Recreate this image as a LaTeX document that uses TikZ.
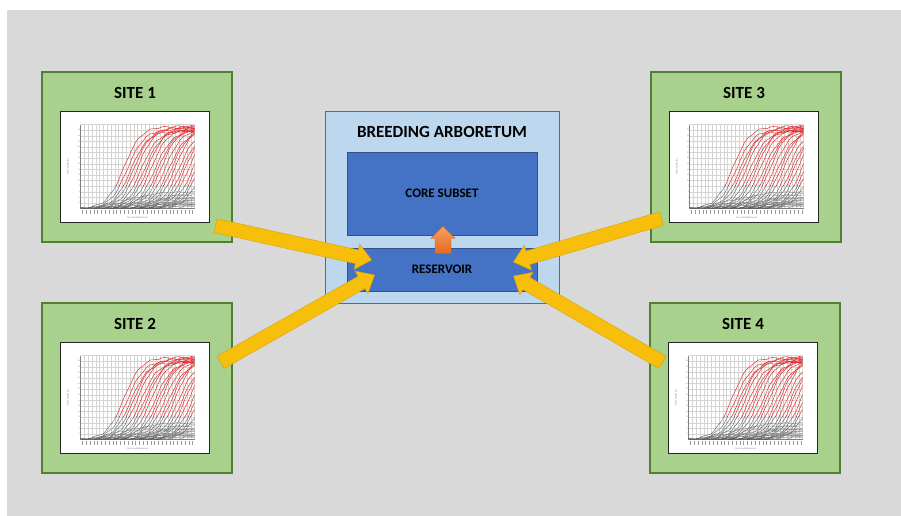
\documentclass[tikz,border=0pt]{standalone}
\usepackage{fontspec}
\setmainfont{Carlito}
\usetikzlibrary{calc}
\definecolor{bgc}{HTML}{D9D9D9}
\definecolor{sitefill}{HTML}{A9D18E}
\definecolor{siteline}{HTML}{507E32}
\definecolor{arbfill}{HTML}{BDD7EE}
\definecolor{arbline}{HTML}{41719C}
\definecolor{corefill}{HTML}{4472C4}
\definecolor{coreline}{HTML}{2F528F}
\definecolor{yel}{HTML}{F8BE0C}
\definecolor{yeldark}{HTML}{DBA200}
\definecolor{orlight}{HTML}{F6A060}
\definecolor{ordark}{HTML}{E36A1E}
\definecolor{gridc}{HTML}{D4D4D4}
\definecolor{redc}{HTML}{E02828}
\definecolor{grayc}{HTML}{555555}

\newcommand{\fatarrow}[6]{%
  \coordinate (fatH) at ($(#3)!#6!(#2)$);
  \path[#1] ($(#2)!#4!90:(#3)$) -- ($(fatH)!#4!90:(#3)$) -- ($(fatH)!#5!90:(#3)$) -- (#3)
     -- ($(fatH)!#5!-90:(#3)$) -- ($(fatH)!#4!-90:(#3)$) -- ($(#2)!#4!-90:(#3)$) -- cycle;}

\newcommand{\minichart}[1]{%
\begin{scope}[shift={(#1.north west)}]
 \begin{scope}[shift={(21,98)}, x=114pt, y=84pt]
  \foreach \i in {0,...,30} \draw[gridc, line width=0.25pt] (\i/30,0) -- (\i/30,1);
  \foreach \j in {0,...,15} \draw[gridc, line width=0.25pt] (0,\j/15) -- (1,\j/15);
  \draw[gray, line width=0.4pt] (0,1) -- (0,0) -- (1,0);
  \foreach \n in {2,4,...,28} \node[font=\fontsize{2}{2}\selectfont, text=gray, anchor=east, inner sep=0.6pt] at (0,\n/30) {\n};
  \node[font=\fontsize{2.4}{2.4}\selectfont, text=gray, rotate=90] at (-0.11,0.5) {Mean height [m]};
  \node[font=\fontsize{2.4}{2.4}\selectfont, text=gray] at (0.5,-0.11) {Year of establishment};
  \foreach \i in {0,...,29} \draw[gray!80, line width=0.5pt] (\i/30+0.017,-0.02) -- ++(0,-0.045);
  \begin{scope}
   \clip (0,0.27) rectangle (1,1.05);
   \foreach \m [count=\k] in {0.38,0.41,...,1.08} {
     \pgfmathsetmacro\ds{max(0,\m-0.45)}
     \pgfmathsetmacro\hh{0.95+0.03*sin(\k*97)}
     \draw[redc, line width=0.45pt] plot[domain=\ds:1, samples=32, smooth] ({\x},{\hh/(1+exp(-(\x-\m)/0.075))+0.01*sin(3000*\x+\k*50)});
   }
  \end{scope}
  \begin{scope}
   \clip (0,0) rectangle (1,0.27);
   \foreach \m [count=\k] in {0.38,0.41,...,1.08} {
     \pgfmathsetmacro\ds{max(0,\m-0.45)}
     \pgfmathsetmacro\hh{0.95+0.03*sin(\k*97)}
     \draw[grayc, line width=0.35pt] plot[domain=\ds:1, samples=32, smooth] ({\x},{\hh/(1+exp(-(\x-\m)/0.075))+0.01*sin(3000*\x+\k*50)});
   }
   \foreach \s/\a in {0.05/0.03,0.1/0.07,0.16/0.12,0.22/0.05,0.28/0.16,0.33/0.1,0.4/0.2,0.45/0.05,0.5/0.13,0.55/0.09,0.6/0.18,0.65/0.07,0.7/0.11,0.75/0.04,0.8/0.16,0.85/0.08} {
     \draw[grayc!80, line width=0.3pt] plot[domain=\s:1, samples=25, smooth] ({\x},{\a*(1-exp(-(\x-\s)/0.12))+0.006*sin(2500*\x+\s*300)});
   }
  \end{scope}
 \end{scope}
\end{scope}}

\begin{document}
\begin{tikzpicture}[x=1pt,y=-1pt,
  sitebox/.style={draw=siteline, fill=sitefill, line width=1.2pt, minimum width=190pt, minimum height=170pt, inner sep=0pt},
  chartbox/.style={draw=black!85, fill=white, line width=0.8pt, minimum width=149pt, minimum height=111pt, inner sep=0pt},
  bigtitle/.style={font=\fontsize{17}{20}\selectfont\bfseries, text=black, inner sep=0pt},
  smalltitle/.style={font=\fontsize{13}{15}\selectfont\bfseries, text=black, inner sep=0pt},
  arbbox/.style={draw=arbline, fill=arbfill, line width=0.8pt, inner sep=0pt},
  bluebox/.style={draw=coreline, fill=corefill, line width=0.9pt, inner sep=0pt, minimum width=190pt},
  yarrow/.style={fill=yel, draw=yeldark, line width=0.4pt, line join=miter},
  oarrow/.style={top color=orlight, bottom color=ordark, draw=ordark!90!black, line width=0.3pt}]
\path[use as bounding box] (0,0) rectangle (901,516);
\fill[bgc] (7,10) rectangle (901,516);

% sites
\node[sitebox] (s1) at (137,157) {};
\node[sitebox] (s2) at (137,388) {};
\node[sitebox] (s3) at (746,157) {};
\node[sitebox] (s4) at (745,388) {};
\node[bigtitle] (s1t) at ($(s1.north)+(-2,22)$) {SITE 1};
\node[bigtitle] (s2t) at ($(s2.north)+(-2,22)$) {SITE 2};
\node[bigtitle] (s3t) at ($(s3.north)+(-2,22)$) {SITE 3};
\node[bigtitle] (s4t) at ($(s4.north)+(-2,22)$) {SITE 4};
\node[chartbox] (c1) at ($(s1.center)+(-2.5,9.5)$) {};
\node[chartbox] (c2) at ($(s2.center)+(-2.5,9.5)$) {};
\node[chartbox] (c3) at ($(s3.center)+(-2.5,9.5)$) {};
\node[chartbox] (c4) at ($(s4.center)+(-2.5,9.5)$) {};
\minichart{c1}
\minichart{c2}
\minichart{c3}
\minichart{c4}

% arboretum
\node[arbbox, minimum width=234pt, minimum height=192pt] (arb) at (442,207) {};
\node[bigtitle] (arbt) at (442,132) {BREEDING ARBORETUM};
\node[bluebox, minimum height=83pt] (core) at (442,193.5) {};
\node[smalltitle] at (core.center) {CORE SUBSET};
\node[bluebox, minimum height=43pt] (res) at (442,269.5) {};
\node[smalltitle] at (res.center) {RESERVOIR};

% orange arrow
\coordinate (ot) at ($(res.north)+(1,6)$);
\coordinate (oh) at ($(core.south)+(1,-9)$);
\fatarrow{oarrow}{ot}{oh}{8pt}{12pt}{12pt}

% yellow arrows
\coordinate (a1t) at ($(s1.south east)+(-17,-17)$);
\coordinate (a1h) at ($(res.west)+(25,-9.5)$);
\coordinate (a2t) at ($(s2.north east)+(-12,60)$);
\coordinate (a2h) at ($(res.west)+(28,5.5)$);
\coordinate (a3t) at ($(s3.south west)+(11,-24)$);
\coordinate (a3h) at ($(res.east)+(-24,-7.5)$);
\coordinate (a4t) at ($(s4.north west)+(13,60)$);
\coordinate (a4h) at ($(res.east)+(-24,6.5)$);
\fatarrow{yarrow}{a1t}{a1h}{7pt}{13pt}{15pt}
\fatarrow{yarrow}{a2t}{a2h}{7pt}{13pt}{15pt}
\fatarrow{yarrow}{a3t}{a3h}{7pt}{13pt}{15pt}
\fatarrow{yarrow}{a4t}{a4h}{7pt}{13pt}{15pt}
\end{tikzpicture}
\end{document}
